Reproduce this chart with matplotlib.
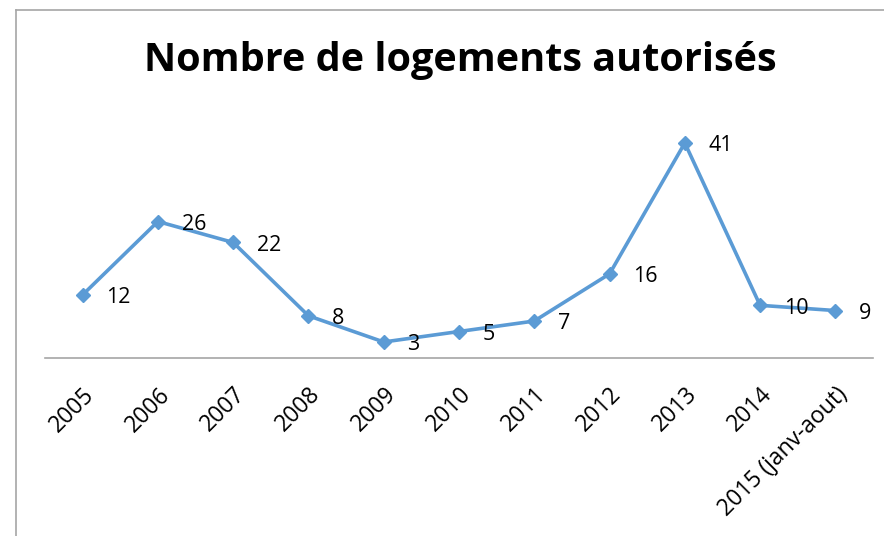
import matplotlib.pyplot as plt
from matplotlib.lines import Line2D

categories = ["2005", "2006", "2007", "2008", "2009", "2010", "2011",
              "2012", "2013", "2014", "2015 (janv-aout)"]
logements = [12, 26, 22, 8, 3, 5, 7, 16, 41, 10, 9]

plt.rcParams["font.family"] = ["Open Sans", "DejaVu Sans"]

fig = plt.figure(figsize=(8.84, 5.36), dpi=100)
ax = fig.add_axes([45 / 884, 178.3 / 536, 828 / 884, 235.7 / 536])

x = list(range(len(categories)))
ax.plot(x, logements, color="#5B9BD5", lw=2.6, marker="D", ms=7,
        markeredgecolor="#5B9BD5", markerfacecolor="#5B9BD5")
for xi, v in zip(x, logements):
    ax.annotate(str(v), (xi, v), xytext=(17, -2), textcoords="offset points",
                ha="left", va="center", fontsize=15.5, color="black")

ax.set_xlim(-0.5, len(categories) - 0.5)
ax.set_ylim(0, 45)
ax.set_yticks([])
ax.set_xticks(x)
ax.set_xticklabels(categories, rotation=45, ha="right", rotation_mode="anchor",
                   fontsize=16.5)
ax.tick_params(axis="x", length=0, pad=18)
for s in ["top", "right", "left"]:
    ax.spines[s].set_visible(False)
ax.spines["bottom"].set_color("#A6A6A6")
ax.spines["bottom"].set_linewidth(1.2)

fig.text(460 / 884, 1 - 60 / 536, "Nombre de logements autorisés",
         ha="center", va="center", fontsize=28.5, fontweight="bold")

# chart border (cropped on right and bottom)
fig.add_artist(Line2D([16 / 884, 1], [1 - 10 / 536, 1 - 10 / 536],
                      transform=fig.transFigure, color="#A6A6A6", lw=1.2))
fig.add_artist(Line2D([16 / 884, 16 / 884], [0, 1 - 10 / 536],
                      transform=fig.transFigure, color="#A6A6A6", lw=1.2))

fig.savefig("out.png", dpi=100)
